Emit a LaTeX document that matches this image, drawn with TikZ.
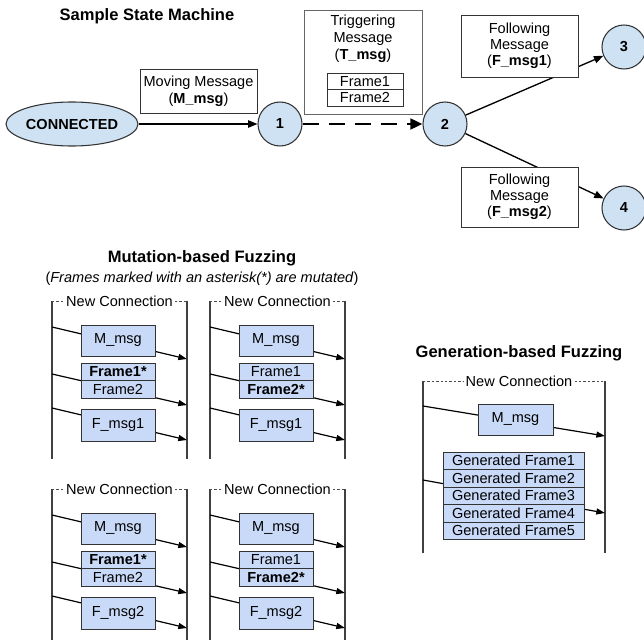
\documentclass[tikz,border=0pt]{standalone}
\usepackage{fontspec}
\setmainfont{Liberation Sans}
\usetikzlibrary{arrows.meta,shapes.geometric}
\definecolor{boxfill}{HTML}{C9DAF8}
\definecolor{statefill}{HTML}{CFE2F3}
\definecolor{edge}{HTML}{333333}
\newcommand\bodyfont{\fontsize{10.9}{12.75}\selectfont}
\newcommand\headfont{\fontsize{12.4}{14}\selectfont\bfseries}

% One mutation test session: two lifelines, three messages
% #1 prefix, #2/#3 shift, #4/#5 frame rows, #6 following message, #7 lifeline end
\newcommand\mutationpanel[7]{%
  \begin{scope}[shift={(#2,#3)}]
    \coordinate (#1tl) at (52,301);
    \coordinate (#1tr) at (187,301);
    \coordinate (#1bl) at (52,#7);
    \coordinate (#1br) at (187,#7);
    \node[sessionlabel] (#1nc) at (119.5,301) {New Connection};
    \draw[lifeline] (#1tl) -- (#1bl);
    \draw[lifeline] (#1tr) -- (#1br);
    \draw[sessiondash] (#1tl) -- (#1tl -| #1nc.west);
    \draw[sessiondash] (#1tr -| #1nc.east) -- (#1tr);
    \coordinate (#1s1) at (52,327);  \coordinate (#1r1) at (187,359);
    \coordinate (#1s2) at (52,374);  \coordinate (#1r2) at (187,405);
    \coordinate (#1s3) at (52,408);  \coordinate (#1r3) at (187,440);
    \draw[send] (#1s1) -- (#1r1);
    \draw[send] (#1s2) -- (#1r2);
    \draw[send] (#1s3) -- (#1r3);
    \node[msgbox, minimum width=55.5pt, minimum height=23.25pt] (#1m) at (118,340.5) {M\_msg};
    \node[msgbox, minimum width=55.5pt, minimum height=13.1pt] (#1fa) at (118,371.75) {#4};
    \node[msgbox, minimum width=55.5pt, minimum height=13.1pt] (#1fb) at (118,389.25) {#5};
    \node[msgbox, minimum width=55.5pt, minimum height=24pt] (#1f) at (118,425) {#6};
  \end{scope}}

\begin{document}
\begin{tikzpicture}[x=0.75pt,y=-0.75pt,
  state/.style={circle, draw=edge, fill=statefill, line width=0.8pt,
    minimum size=33pt, inner sep=0pt, font=\bodyfont\bfseries},
  startstate/.style={ellipse, draw=edge, fill=statefill, line width=0.8pt,
    minimum width=99pt, minimum height=33pt, inner sep=0pt, font=\bodyfont\bfseries},
  labelbox/.style={draw=edge, fill=white, line width=0.6pt, align=center,
    inner sep=0pt, font=\bodyfont},
  msgbox/.style={draw=edge, fill=boxfill, line width=0.7pt, inner sep=0pt, font=\bodyfont},
  flow/.style={line width=1pt, -{Triangle[length=7pt,width=5.5pt]}},
  trigger/.style={line width=1.9pt, dash pattern=on 12pt off 7.5pt,
    -{Triangle[length=9pt,width=8pt]}},
  lifeline/.style={draw=black!75, line width=0.8pt},
  sessiondash/.style={draw=black!70, line width=0.6pt, dash pattern=on 1.8pt off 1.5pt},
  send/.style={line width=0.9pt, -{Triangle[length=6.5pt,width=4.5pt]}},
  heading/.style={font=\headfont, inner sep=0pt},
  sessionlabel/.style={font=\bodyfont, inner sep=1.5pt}]

\useasboundingbox (0,0) rectangle (644,642);

% ---------------- state machine ----------------
\node[heading] (title) at (147,16) {Sample State Machine};

\node[startstate] (conn) at (72,124) {CONNECTED};
\node[state] (s1) at (280,124) {1};
\node[state] (s2) at (445,124) {2};
\node[state] (s3) at (624,47) {3};
\node[state] (s4) at (624,208) {4};

\draw[flow] (conn) -- (s1);
\draw[trigger] (s1) -- (s2);
\draw[flow] (s2) -- (s3);
\draw[flow] (s2) -- (s4);

\node[labelbox, minimum width=87.75pt, minimum height=33pt] (mmsg) at (198.5,91)
  {Moving Message\\(\textbf{M\_msg})};

\node[labelbox, draw=black!60, minimum width=88.5pt, minimum height=78pt] (tmsg) at (363,62) {};
\node[font=\bodyfont, align=center, inner sep=0pt] (tmsgtext) at (363,39)
  {Triggering\\Message\\(\textbf{T\_msg})};
\node[labelbox, minimum width=57pt, minimum height=12.4pt] (tf1) at (365,81.25) {Frame1};
\node[labelbox, minimum width=57pt, minimum height=12.4pt] (tf2) at (365,97.75) {Frame2};

\node[labelbox, minimum width=87.75pt, minimum height=46.5pt, font=\fontsize{10.9}{12}\selectfont] (fmsg1) at (519.5,46)
  {Following\\Message\\(\textbf{F\_msg1})};
\node[labelbox, minimum width=87.75pt, minimum height=45pt, font=\fontsize{10.9}{12}\selectfont] (fmsg2) at (519.5,197)
  {Following\\Message\\(\textbf{F\_msg2})};

% ---------------- mutation-based fuzzing ----------------
\node[heading] (mtitle) at (202,258) {Mutation-based Fuzzing};
\node[font=\bodyfont, inner sep=0pt] (msub) at (202,279)
  {(\textit{Frames marked with an asterisk(*) are mutated})};

\mutationpanel{pa}{0}{0}{\textbf{Frame1*}}{Frame2}{F\_msg1}{459}
\mutationpanel{pb}{158}{0}{Frame1}{\textbf{Frame2*}}{F\_msg1}{459}
\mutationpanel{pc}{0}{188}{\textbf{Frame1*}}{Frame2}{F\_msg2}{452}
\mutationpanel{pd}{158}{188}{Frame1}{\textbf{Frame2*}}{F\_msg2}{452}

% ---------------- generation-based fuzzing ----------------
\node[heading] (gtitle) at (519,353) {Generation-based Fuzzing};

\coordinate (gtl) at (423,381);
\coordinate (gtr) at (605,381);
\coordinate (gbl) at (423,553);
\coordinate (gbr) at (605,553);
\node[sessionlabel] (gnc) at (519,381) {New Connection};
\draw[lifeline] (gtl) -- (gbl);
\draw[lifeline] (gtr) -- (gbr);
\draw[sessiondash] (gtl) -- (gtl -| gnc.west);
\draw[sessiondash] (gtr -| gnc.east) -- (gtr);

\coordinate (gs1) at (423,406); \coordinate (gr1) at (605,436);
\coordinate (gs2) at (423,480); \coordinate (gr2) at (605,513);
\draw[send] (gs1) -- (gr1);
\draw[send] (gs2) -- (gr2);

\node[msgbox, minimum width=56.25pt, minimum height=23.25pt] (gm) at (515.5,419.5) {M\_msg};
\foreach \i/\y in {1/460.75,2/478.25,3/495.75,4/513.25,5/530.75}
  \node[msgbox, minimum width=105.75pt, minimum height=13.1pt] (gf\i) at (513.5,\y)
    {Generated Frame\i};

\end{tikzpicture}
\end{document}
